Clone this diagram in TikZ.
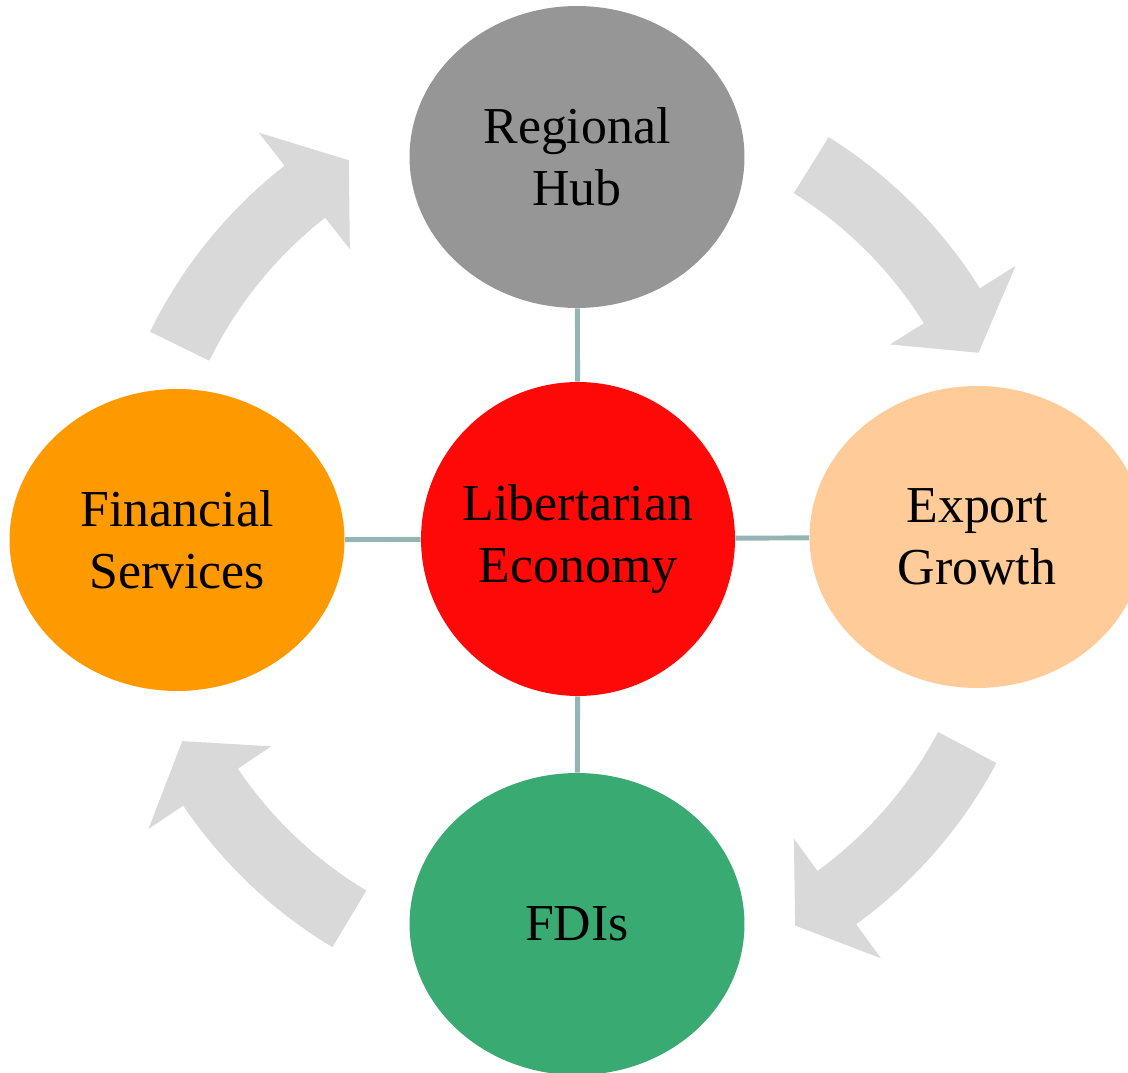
\documentclass[tikz,border=0pt]{standalone}
\usepackage{fontspec}
\setmainfont{Liberation Serif}
\usetikzlibrary{shapes.geometric}
\definecolor{hubgray}{HTML}{969696}
\definecolor{econred}{HTML}{FF0808}
\definecolor{finorange}{HTML}{FF9900}
\definecolor{exppeach}{HTML}{FFCC99}
\definecolor{fdigreen}{HTML}{3AAA73}
\definecolor{arrowgray}{HTML}{D9D9D9}
\definecolor{linkteal}{HTML}{95B5B5}
\tikzset{
  blob/.style={ellipse, minimum width=6.7cm, minimum height=6.04cm, inner sep=0pt,
    align=center, font=\fontsize{29.5}{35}\selectfont},
  link/.style={draw=linkteal, line width=2.8pt},
}
\newcommand{\cyclearrow}[3]{%
  \fill[arrowgray] (#1:475) arc[start angle=#1, end angle=#2, radius=475]
    -- (#2:517) -- (#3:443) -- (#2:369) -- (#2:409)
    arc[start angle=#2, end angle=#1, radius=409] -- cycle;}

\begin{document}
\begin{tikzpicture}[x=0.02cm,y=0.02cm]
\useasboundingbox (0,0) rectangle (1128,1072);
\clip (0,0) rectangle (1128,1072);
\begin{scope}[shift={(577,532)}]
\cyclearrow{154}{128}{121}
\cyclearrow{58}{32}{25}
\cyclearrow{-28}{-54}{-60.5}
\cyclearrow{-121}{-146}{-153}
\end{scope}
\node[blob, fill=hubgray] (hub) at (577,915) {Regional\\Hub};
\node[blob, circle, minimum size=6.28cm, fill=econred] (econ) at (578,533) {Libertarian\\Economy};
\node[blob, fill=finorange] (fin) at (177,532) {Financial\\Services};
\node[blob, fill=exppeach] (exp) at (977,535) {Export\\Growth};
\node[blob, fill=fdigreen] (fdi) at (577,148) {FDIs};
\draw[link] (hub) -- (econ);
\draw[link] (fin) -- (econ);
\draw[link] (econ) -- (exp);
\draw[link] (econ) -- (fdi);
\end{tikzpicture}
\end{document}
